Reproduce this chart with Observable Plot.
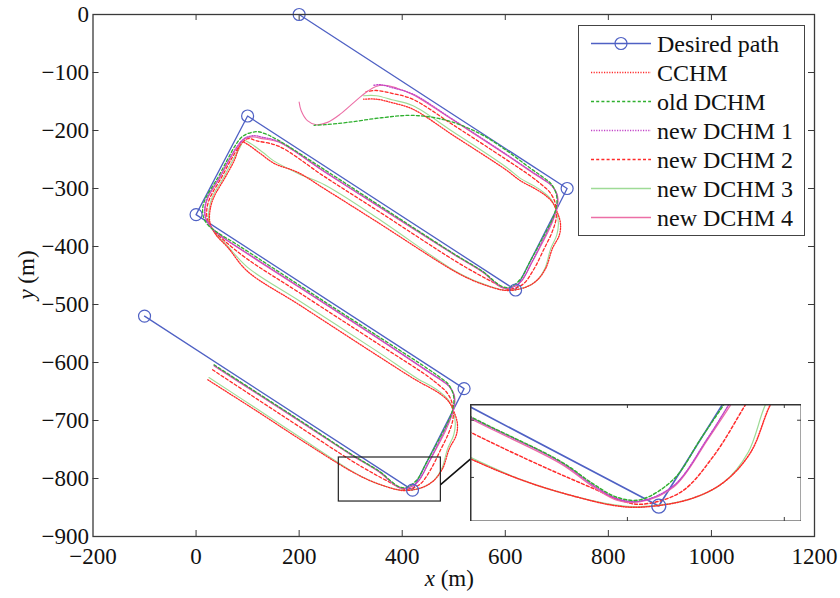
<!DOCTYPE html>
<html><head><meta charset="utf-8">
<script src="https://cdn.jsdelivr.net/npm/d3@7"></script>
<script src="https://cdn.jsdelivr.net/npm/@observablehq/plot@0.6"></script>
<style>
body{margin:0;background:#fff;}
#wrap{position:relative;width:840px;height:598px;font-family:"Liberation Serif","Times New Roman",serif;}
</style></head>
<body><div id="wrap"></div>
<script>
// ---------- data ----------
const xTicks = [-200, 0, 200, 400, 600, 800, 1000, 1200];
const yTicks = [-900, -800, -700, -600, -500, -400, -300, -200, -100, 0];

const desiredX = [-100, 420, 520, 0, 100, 620, 720, 200];
const desiredY = [-520, -820, -645, -345, -175, -475, -300, 0];

const oldX = [35,120,200,300,357.7,378.8,393.7,408.5,429.7,446.7,461.5,480,494,500,499,490,474,450,350,250,150,80,40,22,14,13,18,43,61,76,92,118,135,160,250,350,500,557.7,578.8,593.7,608.5,629.7,646.7,661.5,680,694,700,699,690,674,650,600,552,488,423,360,294,250,229];
const oldY = [-604,-653,-699,-757.5,-789,-805,-814,-815.5,-801,-773,-749,-718,-692,-672,-655,-638,-626,-611,-553,-495.5,-437.5,-397,-375,-362,-348,-333,-318,-280,-250,-226,-209,-202,-206,-217,-268,-326,-412.5,-444,-460,-469,-470.5,-456,-428,-404,-373,-347,-327,-310,-293,-281,-266,-233,-206,-183,-174,-178,-186,-190,-191];

const new1X = [35,120,200,300,357.7,378.8,393.7,408.5,429.7,450.9,464.7,482,495,501,500,490,474,450,350,200,100,50,28,18,17,22,46,64,80,95,112,130,160,250,350,500,557.7,578.8,593.7,608.5,629.7,650.9,664.7,682,695,701,700,690,674,650,600,500,420,380,358,345];
const new1Y = [-605,-654,-700,-758,-789.5,-806,-815,-816.5,-805.6,-773,-749,-718,-692,-672,-655,-640,-629,-615,-556,-469.4,-412,-383,-366,-350,-333,-316,-280,-250,-227,-213,-209,-212,-219,-271,-328,-413,-444.5,-461,-470,-471.5,-460.6,-428,-404,-373,-347,-327,-310,-295,-284,-270,-240,-182,-137,-126,-121,-122];

const new4X = [35,120,200,300,357.7,378.8,393.7,408.5,429.7,451.5,466,484,496,502,501,491,474,450,350,200,100,52,30,19,18,23,47,65,81,96,110,128,160,250,350,500,557.7,578.8,593.7,608.5,629.7,651.5,666,684,696,702,701,691,674,650,600,500,420,390,371,349,330,307,281,255,233,216,204,200];
const new4Y = [-606,-655,-701,-759,-790.5,-807,-816,-817,-806.6,-773,-749,-718,-692,-672,-656,-641,-630,-616,-557,-470.4,-413,-384,-367,-351,-333,-316,-280,-250,-228,-214,-211,-214,-220,-272,-329,-414,-445.5,-462,-471,-472,-461.6,-428,-404,-373,-347,-327,-311,-296,-285,-271,-241,-183,-138,-127,-122.4,-124,-134,-151,-171,-186,-190,-183,-166,-151];

const new2X = [32,120,200,300,347,378.8,395.8,408.5,434,455.1,475.3,490,498,499,495,485,470,450,350,200,100,55,32,22,21,27,50,68,85,100,118,160,250,350,500,547,578.8,595.8,608.5,634,655.1,675.3,690,698,699,695,685,670,650,600,500,420,380,350,330];
const new2Y = [-612.6,-664,-710.5,-768.4,-792.8,-808,-816.1,-818.8,-810.3,-784.7,-749,-722,-700,-684,-665,-650,-638,-624,-566,-479.4,-422,-390,-370,-353,-335,-316,-280,-250,-226,-214,-218,-227,-280,-337,-423.4,-447.8,-463,-471.1,-473.8,-465.3,-439.7,-404,-377,-355,-339,-320,-305,-293,-279,-249,-191,-146,-136,-131,-133];

const new3X = [25,120,200,300,336.5,368.3,391.5,408.5,440.3,461.5,477,488,500,503,499,490,475,455,430,350,200,100,60,36,25,25,31,54,72,86,92,105,130,150,200,250,350,500,536.5,568.3,591.5,608.5,640.3,661.5,677,688,700,703,699,690,675,655,630,600,500,420,380,350,325];
const new3Y = [-626,-681,-728,-786,-803.3,-813.8,-819.2,-820.5,-815,-803.3,-782.4,-749,-725,-705,-684,-665,-652,-640,-628,-580,-493.4,-436,-398,-376,-357,-337,-316,-280,-250,-228,-217,-222,-238,-252,-275,-294,-350,-441,-457.5,-468,-474,-475.5,-470,-458.3,-437.4,-404,-380,-360,-339,-320,-307,-295,-283,-262,-203,-157,-147,-140,-140];

const cchmX = [22.7,120,200,300,336.5,368.3,391.5,408.5,440.3,461.5,478.6,491.2,505,507,500,490,475,455,430,350,200,100,62,38,27,27,34,57,75,83,88,100,125,152,197,250,350,500,536.5,568.3,591.5,608.5,640.3,661.5,678.6,691.2,705,707,700,690,675,655,630,600,500,420,380,350,325];
const cchmY = [-629.8,-685,-731.5,-787,-803.3,-813.8,-819.6,-820.8,-815,-803.3,-782.4,-749,-725,-705,-684,-667,-655,-644,-632,-587,-500.4,-443,-402,-379,-359,-338,-316,-280,-250,-229,-219,-224,-240,-257,-272,-301,-357,-442,-458.3,-468.8,-474.6,-475.8,-470,-458.3,-437.4,-404,-380,-360,-339,-322,-310,-299,-287,-267,-209,-163,-152,-146,-146];

const seriesNames = ["Desired path","CCHM","old DCHM","new DCHM 1","new DCHM 2","new DCHM 3","new DCHM 4"];

// magnified region (main-plot data units) and where the inset sits
const zoomBox = [277, 475, -839.7, -763.8];
const insetPlace = [531.6, 1174, -874.1, -672.4];
const insetXDomain = [300, 511];
const insetYDomain = [-830.8, -749];
const insetXTicks = [400, 500];
const insetYTicks = [-800, -760];
const connectorX = [475, 531.6];
const connectorY = [-810, -767];

// ---------- styles ----------
const BLUE = "#4f61c4";
const styles = {
  "CCHM":        {stroke: "#ff2a2a", strokeWidth: 1.3, strokeDasharray: "1.2,1.4"},
  "old DCHM":    {stroke: "#2fb02f", strokeWidth: 1.3, strokeDasharray: "3,2.2"},
  "new DCHM 1":  {stroke: "#c243c8", strokeWidth: 1.3, strokeDasharray: "1.2,1.4"},
  "new DCHM 2":  {stroke: "#ff2a2a", strokeWidth: 1.3, strokeDasharray: "3,2.2"},
  "new DCHM 3":  {stroke: "#9edb96", strokeWidth: 1.1},
  "new DCHM 4":  {stroke: "#ec6fa6", strokeWidth: 1.1}
};
const toRows = (xs, ys) => xs.map((x, i) => ({x, y: ys[i]}));
const tracks = [
  ["new DCHM 3", toRows(new3X, new3Y)],
  ["CCHM", toRows(cchmX, cchmY)],
  ["new DCHM 2", toRows(new2X, new2Y)],
  ["new DCHM 4", toRows(new4X, new4Y)],
  ["new DCHM 1", toRows(new1X, new1Y)],
  ["old DCHM", toRows(oldX, oldY)]
];
const desired = toRows(desiredX, desiredY);
const fmt = d => (d < 0 ? "\u2212" : "") + Math.abs(d);

const W = 840, H = 598, mL = 92.5, mR = 26, mT = 14, mB = 62;
const fw = W - mL - mR, fh = H - mT - mB;
const AX = "#3a3a3a";
const SERIF = '"Liberation Serif","Times New Roman",serif';

const trackMarks = (sw) => tracks.map(([name, rows]) =>
  Plot.line(rows, {x: "x", y: "y", curve: "catmull-rom", ...styles[name], strokeWidth: styles[name].strokeWidth * sw}));

const main = Plot.plot({
  width: W, height: H, marginLeft: mL, marginRight: mR, marginTop: mT, marginBottom: mB,
  x: {domain: [-200, 1200]},
  y: {domain: [-900, 0]},
  style: {fontFamily: SERIF, fontSize: "23px", color: "#111", background: "white", overflow: "visible"},
  marks: [
    Plot.axisX(xTicks, {tickSize: 0, tickPadding: 11, tickFormat: fmt, label: null, fontSize: 23}),
    Plot.axisY(yTicks, {tickSize: 0, tickPadding: 4, tickFormat: fmt, label: null, fontSize: 23}),
    Plot.tickX(xTicks.slice(1, -1), {x: d => d, insetTop: fh - 6, stroke: AX}),
    Plot.tickX(xTicks.slice(1, -1), {x: d => d, insetBottom: fh - 6, stroke: AX}),
    Plot.tickY(yTicks.slice(1, -1), {y: d => d, insetRight: fw - 6, stroke: AX}),
    Plot.tickY(yTicks.slice(1, -1), {y: d => d, insetLeft: fw - 6, stroke: AX}),
    Plot.line(desired, {x: "x", y: "y", stroke: BLUE, strokeWidth: 1.3}),
    ...trackMarks(1),
    Plot.dot(desired, {x: "x", y: "y", r: 6, stroke: BLUE, strokeWidth: 1.2}),
    Plot.rect([{x1: zoomBox[0], x2: zoomBox[1], y1: zoomBox[2], y2: zoomBox[3]}], {x1: "x1", x2: "x2", y1: "y1", y2: "y2", fill: "none", stroke: "#222", strokeWidth: 1.2}),
    Plot.line(toRows(connectorX, connectorY), {x: "x", y: "y", stroke: "#111", strokeWidth: 1.6}),
    Plot.frame({stroke: AX, strokeWidth: 1.3})
  ]
});

const wrap = document.getElementById("wrap");
wrap.appendChild(main);

// axis titles (italic variable + unit)
const svg = d3.select(main);
const xt = svg.append("text").attr("x", mL + fw / 2 - 4).attr("y", 586).attr("text-anchor", "middle")
  .style("font-size", "23px").attr("fill", "#111");
xt.append("tspan").style("font-style", "italic").text("x");
xt.append("tspan").text(" (m)");
const yt = svg.append("text").attr("transform", `translate(34,${mT + fh / 2}) rotate(-90)`).attr("text-anchor", "middle")
  .style("font-size", "23px").attr("fill", "#111");
yt.append("tspan").style("font-style", "italic").text("y");
yt.append("tspan").text(" (m)");

// ---------- inset ----------
const sx = main.scale("x"), sy = main.scale("y");
const iL = sx.apply(insetPlace[0]), iR = sx.apply(insetPlace[1]);
const iT = sy.apply(insetPlace[3]), iB = sy.apply(insetPlace[2]);
const iw = iR - iL, ih = iB - iT;
const inset = Plot.plot({
  width: iw, height: ih, margin: 0,
  x: {domain: insetXDomain, axis: null},
  y: {domain: insetYDomain, axis: null},
  style: {background: "white", overflow: "hidden"},
  marks: [
    Plot.line(desired, {x: "x", y: "y", stroke: BLUE, strokeWidth: 1.6}),
    ...trackMarks(1.15),
    Plot.dot(desired, {x: "x", y: "y", r: 7, stroke: BLUE, strokeWidth: 1.3}),
    Plot.tickX(insetXTicks, {x: d => d, insetTop: ih - 4, stroke: AX}),
    Plot.tickX(insetXTicks, {x: d => d, insetBottom: ih - 4, stroke: AX}),
    Plot.tickY(insetYTicks, {y: d => d, insetRight: iw - 4, stroke: AX}),
    Plot.tickY(insetYTicks, {y: d => d, insetLeft: iw - 4, stroke: AX}),
    Plot.frame({stroke: "#333", strokeWidth: 2})
  ]
});
inset.style.position = "absolute";
inset.style.left = iL + "px";
inset.style.top = iT + "px";
wrap.appendChild(inset);

// ---------- legend ----------
const lg = document.createElement("div");
lg.style.cssText = "position:absolute;left:578px;top:25px;width:225px;height:209px;border:1.3px solid #444;background:#fff;";
const NS = "http://www.w3.org/2000/svg";
const ls = document.createElementNS(NS, "svg");
ls.setAttribute("width", 225); ls.setAttribute("height", 209);
lg.appendChild(ls);
seriesNames.forEach((name, i) => {
  const cy = 17.5 + i * 29;
  const ln = document.createElementNS(NS, "line");
  ln.setAttribute("x1", 12); ln.setAttribute("x2", 72); ln.setAttribute("y1", cy); ln.setAttribute("y2", cy);
  if (i === 0) {
    ln.setAttribute("stroke", BLUE); ln.setAttribute("stroke-width", 1.3);
  } else {
    const s = styles[name];
    ln.setAttribute("stroke", s.stroke); ln.setAttribute("stroke-width", 1.4);
    if (s.strokeDasharray) ln.setAttribute("stroke-dasharray", s.strokeDasharray);
  }
  ls.appendChild(ln);
  if (i === 0) {
    const c = document.createElementNS(NS, "circle");
    c.setAttribute("cx", 42); c.setAttribute("cy", cy); c.setAttribute("r", 6);
    c.setAttribute("fill", "none"); c.setAttribute("stroke", BLUE); c.setAttribute("stroke-width", 1.2);
    ls.appendChild(c);
  }
  const t = document.createElementNS(NS, "text");
  t.setAttribute("x", 78); t.setAttribute("y", cy); t.setAttribute("dy", "0.35em");
  t.setAttribute("font-size", "24px"); t.setAttribute("fill", "#111");
  t.setAttribute("font-family", SERIF);
  t.textContent = name;
  ls.appendChild(t);
});
wrap.appendChild(lg);
</script></body></html>
